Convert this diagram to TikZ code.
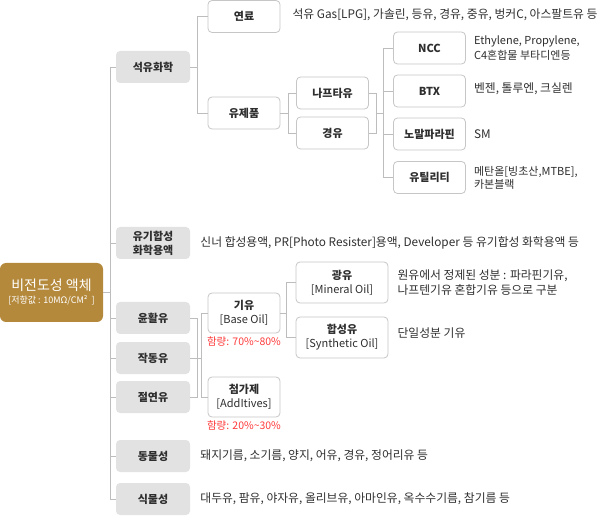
\documentclass[tikz,border=0pt]{standalone}
\usepackage{fontspec}
\setmainfont{Noto Sans CJK KR}
\usetikzlibrary{positioning, calc}
\definecolor{cgold}{HTML}{B4893C}
\definecolor{cbox}{HTML}{E2E2E2}
\definecolor{cline}{HTML}{BDBDBD}
\definecolor{cedge}{HTML}{C6C6C6}
\definecolor{ctext}{HTML}{2E2E2E}
\definecolor{cred}{HTML}{FF3A3A}
\tikzset{
  root/.style={fill=cgold, rounded corners=6pt, text=white, align=center, minimum width=103pt, minimum height=59pt, inner sep=1pt},
  cat/.style={fill=cbox, rounded corners=4pt, text=ctext, align=center, font=\bfseries\fontsize{11}{14}\selectfont, minimum width=74pt, minimum height=32pt, inner sep=1pt},
  sub/.style={draw=cedge, fill=white, rounded corners=4pt, line width=0.8pt, text=ctext, align=center, font=\bfseries\fontsize{11}{14}\selectfont, minimum width=72pt, minimum height=32pt, inner sep=1pt},
  desc/.style={text=ctext, align=left, font=\fontsize{11.8}{15}\selectfont, inner sep=2pt},
  amount/.style={text=cred, font=\fontsize{10.5}{12}\selectfont, inner sep=1pt},
  link/.style={draw=cline, line width=0.8pt},
}

\begin{document}
\begin{tikzpicture}[x=1pt, y=-1pt]
  \useasboundingbox (0,0) rectangle (598,516);
  \node[root] (root) at (51.5,292.5) {{\fontsize{14}{16}\selectfont 비전도성 액체}\\[1pt]{\fontsize{9}{11}\selectfont [저항값 : 10MΩ/CM²~~]}};

  \node[cat] (petro) at (153,67) {석유화학};
  \node[cat] (organic) at (153,243) {유기합성\\화학용액};
  \node[cat] (lube) at (153,318) {윤활유};
  \node[cat] (hydraulic) at (153,358) {작동유};
  \node[cat] (insul) at (153,397) {절연유};
  \node[cat] (animal) at (153,456) {동물성};
  \node[cat] (plant) at (153,499) {식물성};

  \node[sub] (fuel) at (244,16.5) {연료};
  \node[sub] (product) at (244,113) {유제품};
  \node[sub] (naphtha) at (332.5,93) {나프타유};
  \node[sub] (diesel) at (332.5,133) {경유};
  \node[sub] (ncc) at (429.5,48) {NCC};
  \node[sub] (btx) at (429.5,91) {BTX};
  \node[sub] (nparaffin) at (429.5,134) {노말파라핀};
  \node[sub] (utility) at (429.5,177.5) {유틸리티};
  \node[sub, minimum height=40pt] (baseoil) at (244,313) {기유\\{\mdseries[Base Oil]}};
  \node[sub, minimum height=40pt] (additive) at (244,397) {첨가제\\{\mdseries[AddItives]}};
  \node[sub, minimum width=92pt, minimum height=41pt] (mineral) at (342,282.5) {광유\\{\mdseries[Mineral Oil]}};
  \node[sub, minimum width=92pt, minimum height=41pt] (synthetic) at (342,337.5) {합성유\\{\mdseries[Synthetic Oil]}};

  \node[desc, right=10pt of fuel, yshift=2pt] {석유 Gas[LPG], 가솔린, 등유, 경유, 중유, 벙커C, 아스팔트유 등};
  \node[desc, right=6pt of ncc, font=\fontsize{11}{15}\selectfont] {Ethylene, Propylene,\\C4혼합물 부타디엔등};
  \node[desc, right=6pt of btx, yshift=2pt] {벤젠, 톨루엔, 크실렌};
  \node[desc, right=6pt of nparaffin] {SM};
  \node[desc, right=6pt of utility, font=\fontsize{11}{13}\selectfont] {메탄올[빙초산,MTBE],\\카본블랙};
  \node[desc, right=8pt of organic] {신너 합성용액, PR[Photo Resister]용액, Developer 등 유기합성 화학용액 등};
  \node[desc, right=7pt of mineral] {원유에서 정제된 성분 : 파라핀기유,\\나프텐기유 혼합기유 등으로 구분};
  \node[desc, right=7pt of synthetic, yshift=4pt] {단일성분 기유};
  \node[desc, right=8pt of animal] {돼지기름, 소기름, 양지, 어유, 경유, 정어리유 등};
  \node[desc, right=8pt of plant] {대두유, 팜유, 야자유, 올리브유, 아마인유, 옥수수기름, 참기름 등};
  \node[amount, below=2pt of baseoil] {함량: 70\%\textasciitilde80\%};
  \node[amount, below=2pt of additive] {함량: 20\%\textasciitilde30\%};

  \coordinate (trunk) at (110,0);
  \draw[link] (root.east) -- (root.east -| trunk);
  \draw[link] (petro.west -| trunk) -- (plant.west -| trunk);
  \foreach \n in {petro, organic, lube, hydraulic, insul, animal, plant}
    \draw[link] (\n.west) -- (\n.west -| trunk);

  \draw[link] (petro.east) -- ++(7.5,0);
  \draw[link] (fuel.west) -- ++(-10.5,0) |- (product.west);
  \draw[link] (product.east) -- ++(8,0);
  \draw[link] (naphtha.west) -- ++(-8,0) |- (diesel.west);
  \draw[link] (naphtha.east) -- ++(7,0) |- (diesel.east);
  \draw[link] ($(naphtha.east)!0.5!(diesel.east)$) ++(7,0) -- ++(7,0);
  \draw[link] (ncc.west) -- ++(-10,0) |- (utility.west);
  \foreach \n in {btx, nparaffin}
    \draw[link] (\n.west) -- ++(-10,0);

  \draw[link] (lube.east) -- ++(7,0) |- (insul.east);
  \draw[link] (hydraulic.east) -- ++(12,0);
  \draw[link] (baseoil.west) -- ++(-6,0) |- (additive.west);
  \draw[link] (baseoil.east) -- ++(7,0);
  \draw[link] (mineral.west) -- ++(-9,0) |- (synthetic.west);
\end{tikzpicture}
\end{document}
